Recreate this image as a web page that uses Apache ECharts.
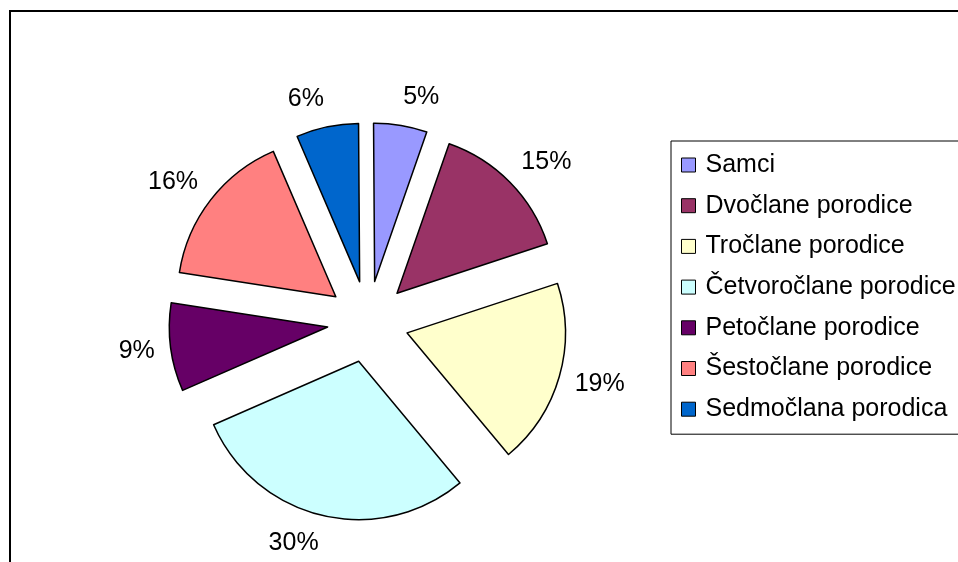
<!DOCTYPE html>
<html style="height: 100%;">
  <head>
    <meta charset="utf-8" />
    <script src="https://cdn.jsdelivr.net/npm/echarts/dist/echarts.min.js"></script>
  </head>
  <body style="height: 100%; margin: 0; background: #fff;">
    <div id="container" style="width: 958px; height: 562px;"></div>
    <script type="text/javascript">
      var categories = [
        "Samci",
        "Dvočlane porodice",
        "Tročlane porodice",
        "Četvoročlane porodice",
        "Petočlane porodice",
        "Šestočlane porodice",
        "Sedmočlana porodica",
      ];
      // shares (labels show them rounded)
      var values = [5.45, 14.6, 19.0, 29.5, 9.0, 16.1, 6.35];
      var colors = ["#9999FF", "#993366", "#FFFFCC", "#CCFFFF", "#660066", "#FF8080", "#0066CC"];

      var font = "'Liberation Sans', Arial, sans-serif";
      var startDeg = 90.4;
      var myChart = echarts.init(document.getElementById("container"));

      var pieData = categories.map(function (name, i) {
        return { name: name, value: values[i], selected: true, itemStyle: { color: colors[i] } };
      });

      // mid angle of each slice, clockwise from 12 o'clock (for label placement like Excel)
      var total = values.reduce(function (a, b) { return a + b; }, 0);
      var midAngles = [];
      var cum = 0;
      values.forEach(function (v) {
        midAngles.push(((cum + v / 2) / total) * 2 * Math.PI + ((90 - startDeg) * Math.PI) / 180);
        cum += v;
      });

      var option = {
        animation: false,
        backgroundColor: "#fff",
        graphic: [
          {
            type: "rect",
            shape: { x: 10, y: 11, width: 1000, height: 600 },
            style: { fill: "none", stroke: "#000", lineWidth: 2 },
            silent: true,
          },
        ],
        legend: {
          orient: "vertical",
          left: 671,
          top: 141,
          padding: [11, 10, 12, 10],
          itemGap: 14.7,
          itemWidth: 14,
          itemHeight: 14,
          icon: "rect",
          borderColor: "#000",
          borderWidth: 1,
          backgroundColor: "#fff",
          itemStyle: { borderColor: "#000", borderWidth: 1 },
          textStyle: {
            fontFamily: font,
            fontSize: 25,
            color: "#000",
            lineHeight: 26,
            padding: [0, 0, 0, 5],
          },
          selectedMode: false,
          data: categories,
        },
        series: [
          {
            type: "pie",
            center: [368, 321.7],
            radius: 158.3,
            startAngle: startDeg,
            clockwise: true,
            selectedMode: "multiple",
            selectedOffset: 40.7,
            avoidLabelOverlap: false,
            percentPrecision: 0,
            itemStyle: { borderColor: "#000", borderWidth: 1.5 },
            select: { itemStyle: { borderColor: "#000", borderWidth: 1.5 } },
            emphasis: { disabled: true },
            label: {
              show: true,
              position: "outside",
              formatter: "{d}%",
              fontFamily: font,
              fontSize: 25,
              lineHeight: 24,
              color: "#000",
              distanceToLabelLine: 0,
            },
            labelLine: { show: false, length: 16, length2: 0 },
            labelLayout: function (params) {
              var a = midAngles[params.dataIndex];
              return { dy: (-Math.cos(a) * params.labelRect.height) / 2 };
            },
            data: pieData,
          },
        ],
      };
      myChart.setOption(option);
    </script>
  </body>
</html>
